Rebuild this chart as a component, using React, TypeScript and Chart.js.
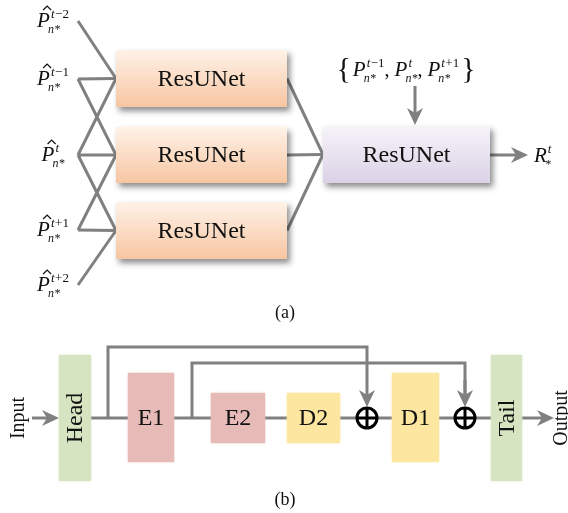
import React, { useEffect, useRef } from "react";
import { Chart, registerables } from "chart.js";

Chart.register(...registerables);

// ---------- diagram data (diagram units = pixels of the 568x513 figure) ----------
const inputSup = ["t\u22122", "t\u22121", "t", "t+1", "t+2"];
const inputY = [21, 79, 155, 230, 285];
const inputX = 78;

const stageLeft = 116;
const stageRight = 287;
const stageTop = [50, 127, 202];
const stageBottom = [107, 183, 259];
const stageLabel = "ResUNet";

// [inputIndex, stageIndex]
const fanIn = [
  [0, 0], [1, 0], [2, 0],
  [1, 1], [2, 1], [3, 1],
  [2, 2], [3, 2], [4, 2],
];

const fuseBox = [323, 490, 126, 183];
const fuseLabel = "ResUNet";

const mainY = 418;
const blockNames = ["Head", "E1", "E2", "D2", "D1", "Tail"];
const blockX0 = [59, 128, 211, 287, 392, 491];
const blockX1 = [91, 174, 265, 340, 439, 522];
const blockY0 = [355, 373, 393, 393, 373, 355];
const blockY1 = [481, 462, 443, 443, 462, 481];
const blockColor = ["#d6e4c2", "#e6bab6", "#e6bab6", "#fde6a0", "#fde6a0", "#d6e4c2"];
const blockRotated = [true, false, false, false, false, true];

const plusX = [367, 465];
const plusR = 10;

const skipX0 = [108, 192];
const skipTopY = [347, 363];

const arrowList = [
  // [x0, y0, x1, y1]
  [415, 86, 415, 125],
  [490, 155, 528, 155],
  [32, mainY, 59, mainY],
  [522, mainY, 554, mainY],
  [plusX[0], 395, plusX[0], mainY - plusR - 1],
  [plusX[1], 380, plusX[1], mainY - plusR - 1],
];

const gray = "#808080";
const serif = "'Liberation Serif', 'DejaVu Serif', serif";

export default function App() {
  const ref = useRef<HTMLCanvasElement | null>(null);

  useEffect(() => {
    const canvas = ref.current!;
    const lineDs = (pts: number[][]) => ({
      data: pts.map(([x, y]) => ({ x, y })),
      showLine: true,
      borderColor: gray,
      borderWidth: 3,
      pointRadius: 0,
      fill: false,
      tension: 0,
      borderCapStyle: "butt" as const,
      borderJoinStyle: "miter" as const,
    });

    const datasets: any[] = [];
    fanIn.forEach(([i, s]) => {
      const cy = (stageTop[s] + stageBottom[s]) / 2;
      datasets.push(lineDs([[inputX, inputY[i]], [stageLeft, cy]]));
    });
    stageTop.forEach((t, s) => {
      const cy = (t + stageBottom[s]) / 2;
      datasets.push(lineDs([[stageRight, cy], [fuseBox[0], (fuseBox[2] + fuseBox[3]) / 2]]));
    });
    datasets.push(lineDs([[blockX1[0], mainY], [blockX0[5], mainY]]));
    skipX0.forEach((x0, k) => {
      datasets.push(lineDs([[x0, mainY], [x0, skipTopY[k]], [plusX[k], skipTopY[k]], [plusX[k], 396]]));
    });
    arrowList.forEach(([x0, y0, x1, y1]) => {
      const len = Math.hypot(x1 - x0, y1 - y0);
      const ux = (x1 - x0) / len, uy = (y1 - y0) / len;
      datasets.push(lineDs([[x0, y0], [x1 - ux * 10, y1 - uy * 10]]));
    });

    const drawPlugin = {
      id: "diagram",
      afterDatasetsDraw(chart: any) {
        const ctx: CanvasRenderingContext2D = chart.ctx;
        const X = (v: number) => chart.scales.x.getPixelForValue(v);
        const Y = (v: number) => chart.scales.y.getPixelForValue(v);
        ctx.save();

        // arrow heads
        arrowList.forEach(([x0, y0, x1, y1]) => {
          const tx = X(x1), ty = Y(y1);
          const ang = Math.atan2(Y(y1) - Y(y0), X(x1) - X(x0));
          ctx.save();
          ctx.translate(tx, ty);
          ctx.rotate(ang);
          ctx.fillStyle = gray;
          ctx.beginPath();
          ctx.moveTo(0, 0);
          ctx.lineTo(-17, -8);
          ctx.lineTo(-12, 0);
          ctx.lineTo(-17, 8);
          ctx.closePath();
          ctx.fill();
          ctx.restore();
        });

        // stage boxes
        const gradBox = (x0: number, x1: number, y0: number, y1: number, c0: string, c1: string, label: string) => {
          const px0 = X(x0), px1 = X(x1), py0 = Y(y0), py1 = Y(y1);
          const g = ctx.createLinearGradient(0, py0, 0, py1);
          g.addColorStop(0, c0);
          g.addColorStop(1, c1);
          ctx.save();
          ctx.shadowColor = "rgba(0,0,0,0.45)";
          ctx.shadowBlur = 6;
          ctx.shadowOffsetX = 3;
          ctx.shadowOffsetY = 4;
          ctx.fillStyle = g;
          ctx.fillRect(px0, py0, px1 - px0, py1 - py0);
          ctx.restore();
          ctx.fillStyle = "#111";
          ctx.font = `24px ${serif}`;
          ctx.textAlign = "center";
          ctx.textBaseline = "middle";
          ctx.fillText(label, (px0 + px1) / 2, (py0 + py1) / 2 + 1);
        };
        stageTop.forEach((t, s) => gradBox(stageLeft, stageRight, t, stageBottom[s], "#fef2e8", "#f7c6a2", stageLabel));
        gradBox(fuseBox[0], fuseBox[1], fuseBox[2], fuseBox[3], "#f6f3f9", "#dbd2e6", fuseLabel);

        const SS = 13;
        // math helpers
        const supSub = (x: number, base: number, sup: string, sub: string, baseTxt: string, hat: boolean, size = 21) => {
          ctx.textAlign = "left";
          ctx.textBaseline = "alphabetic";
          ctx.font = `italic ${size}px ${serif}`;
          ctx.fillText(baseTxt, x, base);
          const w = ctx.measureText(baseTxt).width;
          if (hat) {
            ctx.strokeStyle = "#111";
            ctx.lineWidth = 1.2;
            ctx.beginPath();
            ctx.moveTo(x + 6, base - 17);
            ctx.lineTo(x + 10, base - 21);
            ctx.lineTo(x + 14, base - 17);
            ctx.stroke();
          }
          let sx = x + w + 1;
          if (sup) {
            ctx.font = `italic ${SS}px ${serif}`;
            ctx.fillText(sup[0], sx, base - 9);
            sx += ctx.measureText(sup[0]).width + 0.5;
            ctx.font = `${SS}px ${serif}`;
            ctx.fillText(sup.slice(1), sx, base - 9);
            sx += ctx.measureText(sup.slice(1)).width;
          }
          let bx = x + w - 2;
          if (sub) {
            ctx.font = `italic ${SS - 1}px ${serif}`;
            ctx.fillText(sub, bx, base + 6);
            bx += ctx.measureText(sub).width;
          }
          return Math.max(sx, bx) - x;
        };
        const measureGroup = (sup: string, sub: string, baseTxt: string, size = 21) => {
          ctx.font = `italic ${size}px ${serif}`;
          const w = ctx.measureText(baseTxt).width;
          ctx.font = `italic ${SS}px ${serif}`;
          let sw = sup ? ctx.measureText(sup[0]).width + 0.5 : 0;
          ctx.font = `${SS}px ${serif}`;
          sw += sup ? ctx.measureText(sup.slice(1)).width : 0;
          ctx.font = `italic ${SS - 1}px ${serif}`;
          const bw = ctx.measureText(sub).width;
          return Math.max(w + 1 + sw, w - 2 + bw);
        };

        ctx.fillStyle = "#111";
        // input labels
        inputSup.forEach((sup, i) => {
          const w = measureGroup(sup, "n*", "P");
          supSub(X(53) - w / 2, Y(inputY[i]) + 6, sup, "n*", "P", true);
        });

        // braces label
        {
          const cy = Y(70);
          const parts = ["t\u22121", "t", "t+1"];
          const ws = parts.map((p) => measureGroup(p, "n*", "P"));
          ctx.font = `20px ${serif}`;
          const comma = ctx.measureText(", ").width;
          ctx.font = `30px ${serif}`;
          const bw = ctx.measureText("{").width;
          const total = bw * 2 + ws.reduce((a, b) => a + b, 0) + comma * 2 + 6;
          let x = X(407) - total / 2;
          ctx.font = `30px ${serif}`;
          ctx.textBaseline = "middle";
          ctx.textAlign = "left";
          ctx.fillText("{", x, cy);
          x += bw + 2;
          parts.forEach((p, k) => {
            supSub(x, cy + 6, p, "n*", "P", false);
            x += ws[k];
            if (k < parts.length - 1) {
              ctx.font = `20px ${serif}`;
              ctx.fillText(",", x, cy + 6);
              x += comma;
            }
          });
          x += 2;
          ctx.font = `30px ${serif}`;
          ctx.textBaseline = "middle";
          ctx.fillText("}", x, cy);
        }

        // output label R
        supSub(X(534), Y(155) + 7, "t", "*", "R", false);

        // panel captions
        ctx.font = `18px ${serif}`;
        ctx.textAlign = "center";
        ctx.textBaseline = "middle";
        ctx.fillText("(a)", X(285), Y(313));
        ctx.fillText("(b)", X(285), Y(500));

        // bottom blocks
        blockNames.forEach((name, k) => {
          const px0 = X(blockX0[k]), px1 = X(blockX1[k]), py0 = Y(blockY0[k]), py1 = Y(blockY1[k]);
          ctx.save();
          ctx.fillStyle = blockColor[k];
          ctx.shadowColor = blockColor[k];
          ctx.shadowBlur = 2;
          ctx.fillRect(px0, py0, px1 - px0, py1 - py0);
          ctx.restore();
          ctx.fillStyle = "#111";
          ctx.textAlign = "center";
          ctx.textBaseline = "middle";
          ctx.font = `24px ${serif}`;
          const cx = (px0 + px1) / 2, cy = (py0 + py1) / 2;
          if (blockRotated[k]) {
            ctx.save();
            ctx.translate(cx + 1, cy);
            ctx.rotate(-Math.PI / 2);
            ctx.fillText(name, 0, 0);
            ctx.restore();
          } else {
            ctx.fillText(name, cx, cy + 1);
          }
        });

        // plus circles
        plusX.forEach((px) => {
          const cx = X(px), cy = Y(mainY);
          ctx.fillStyle = "#fff";
          ctx.strokeStyle = "#000";
          ctx.lineWidth = 3;
          ctx.beginPath();
          ctx.arc(cx, cy, plusR, 0, Math.PI * 2);
          ctx.fill();
          ctx.stroke();
          ctx.beginPath();
          ctx.moveTo(cx - plusR, cy);
          ctx.lineTo(cx + plusR, cy);
          ctx.moveTo(cx, cy - plusR);
          ctx.lineTo(cx, cy + plusR);
          ctx.stroke();
        });

        // Input / Output rotated
        ctx.fillStyle = "#111";
        ctx.font = `20px ${serif}`;
        [["Input", 19], ["Output", 562]].forEach(([t, x]) => {
          ctx.save();
          ctx.translate(X(x as number), Y(mainY));
          ctx.rotate(-Math.PI / 2);
          ctx.textAlign = "center";
          ctx.textBaseline = "middle";
          ctx.fillText(t as string, 0, 0);
          ctx.restore();
        });

        ctx.restore();
      },
    };

    const chart = new Chart(canvas, {
      type: "scatter",
      data: { datasets },
      options: {
        animation: false,
        responsive: false,
        maintainAspectRatio: false,
        layout: { padding: 0 },
        plugins: { legend: { display: false }, tooltip: { enabled: false } },
        scales: {
          x: { type: "linear", min: 0, max: 568, display: false },
          y: { type: "linear", min: 0, max: 513, reverse: true, display: false },
        },
      },
      plugins: [drawPlugin],
    });
    return () => chart.destroy();
  }, []);

  return (
    <div style={{ position: "absolute", left: 0, top: 0, width: 568, height: 513, background: "#fff" }}>
      <canvas ref={ref} width={568} height={513} />
    </div>
  );
}
